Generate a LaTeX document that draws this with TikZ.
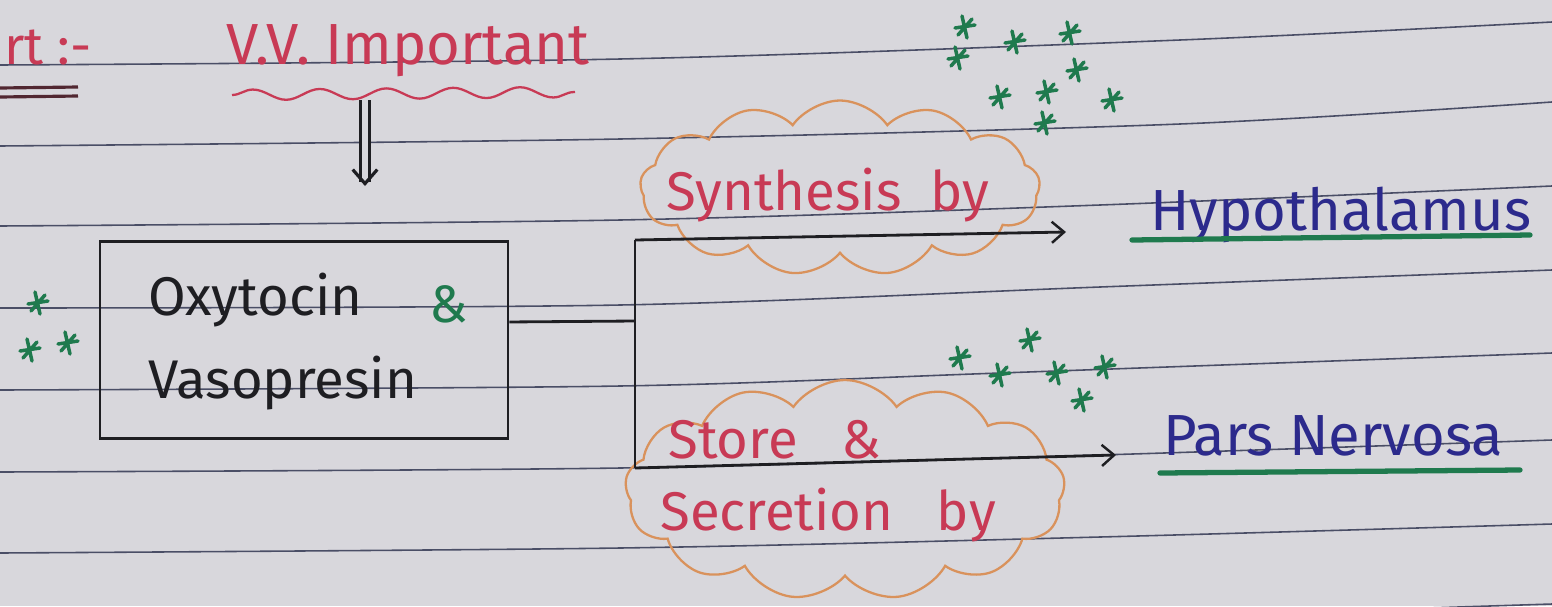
\documentclass[tikz,border=0pt]{standalone}
\usepackage{fontspec}
\setmainfont{Fira Sans}
\usetikzlibrary{shapes.symbols,arrows.meta,decorations.pathmorphing,calc}
\definecolor{paper}{HTML}{D8D7DC}
\definecolor{rulec}{HTML}{4A4E66}
\definecolor{redink}{HTML}{C83A55}
\definecolor{navyink}{HTML}{2C2A8C}
\definecolor{greenink}{HTML}{1F7A4E}
\definecolor{cloudc}{HTML}{D9925C}
\definecolor{blackink}{HTML}{1E1E22}
\tikzset{
  rule/.style={rulec, line width=0.9pt},
  red text/.style={text=redink, inner sep=0pt},
  navy text/.style={text=navyink, inner sep=0pt},
  ink/.style={blackink, line width=1.6pt},
  arrowline/.style={ink, -{Straight Barb[length=7pt,width=12pt,line width=1.4pt]}},
  cloudbox/.style={cloud, draw=cloudc, line width=1.3pt, cloud puffs=13, cloud puff arc=110, inner sep=0pt},
  asterisk/.pic={\draw[greenink, line width=2pt, line cap=round]
      (-10,1)--(10,-2) (-3,-11)--(2,11) (-7,8)--(7,-8);}
}
\begin{document}
\begin{tikzpicture}[x=0.02cm,y=-0.02cm]
\fill[paper] (0,0) rectangle (1552,606);
\useasboundingbox (0,0) rectangle (1552,606);
\begin{scope}
\clip (0,0) rectangle (1552,606);
% ruled lines
\draw[rule] plot[smooth] coordinates {(0,65) (620,59) (1180,40) (1552,22)};
\draw[rule] plot[smooth] coordinates {(0,146) (620,139) (1180,124) (1552,102)};
\draw[rule] plot[smooth] coordinates {(0,226) (620,220) (1100,205) (1552,186)};
\draw[rule] plot[smooth] coordinates {(0,308) (620,305) (1100,287) (1552,270)};
\draw[rule] plot[smooth] coordinates {(0,390) (620,386) (1000,373) (1552,353)};
\draw[rule] plot[smooth] coordinates {(0,472) (620,468) (1100,455) (1552,440)};
\draw[rule] plot[smooth] coordinates {(0,553) (620,548) (1100,537) (1552,524)};
\draw[rule] plot[smooth] coordinates {(0,635) (620,630) (1100,618) (1552,604)};
\end{scope}

% header
\node[red text, anchor=base west, font=\fontsize{30}{30}\selectfont] (hdr) at (4,64) {rt :-};
\draw[blackink!70!redink, line width=1.8pt] (0,88) -- (78,87) (0,97) -- (78,96);
\node[red text, anchor=base west, font=\fontsize{33}{33}\selectfont] (vv) at (226,64) {V.V. Important};
\draw[redink, line width=1.3pt, decorate, decoration={snake, segment length=38, amplitude=3}]
  (232,95) -- (575,92);
\coordinate (dtop) at (365,100);
\coordinate (dbot) at (365,186);
\draw[ink, double=paper, double distance=3pt, line width=1.8pt, -{Straight Barb[length=8pt,width=14pt]}] (dtop) -- (dbot);

% stars left
\pic at (38,303) {asterisk};
\pic at (30,350) {asterisk};
\pic at (68,343) {asterisk};

% main box
\node[draw=blackink, line width=1.6pt, minimum width=8.16cm, minimum height=3.95cm, inner sep=0pt] (box) at (304,340) {};
\node[anchor=base west, inner sep=0pt, text=blackink, font=\fontsize{31}{31}\selectfont] (oxy) at (148,315) {Oxytocin};
\node[anchor=base, inner sep=0pt, text=greenink, font=\fontsize{30}{30}\selectfont] (amp1) at (449,322) {\&};
\node[anchor=base west, inner sep=0pt, text=blackink, font=\fontsize{31}{31}\selectfont] (vaso) at (148,398) {Vasopresin};

% clouds
\node[cloudbox, minimum width=8.0cm, minimum height=3.5cm] (c1) at (840,188) {};
\node[cloudbox, minimum width=8.8cm, minimum height=4.4cm] (c2) at (845,490) {};
\node[red text, anchor=base west, font=\fontsize{31}{31}\selectfont] (syn) at (666,210) {Synthesis \ by};
\node[red text, anchor=base west, font=\fontsize{31}{31}\selectfont] (store) at (668,458) {Store \ \ \&};
\node[red text, anchor=base west, font=\fontsize{31}{31}\selectfont] (secr) at (660,530) {Secretion \ \ by};

% connectors
\coordinate (brtop) at (635,240);
\coordinate (brbot) at (635,468);
\coordinate (brmid) at (635,321);
\coordinate (tipA) at (1066,232);
\coordinate (tipB) at (1116,455);
\draw[ink] ($(box.north east)!0.41!(box.south east)$) -- (brmid);
\draw[ink] (brtop) -- (brbot);
\draw[arrowline] (brtop) -- (tipA);
\draw[arrowline] (brbot) -- (tipB);

% targets
\node[navy text, anchor=base west, font=\fontsize{33}{33}\selectfont] (hypo) at (1150,230) {Hypothalamus};
\draw[greenink, line width=3pt, line cap=round] (1132,240) -- (1530,235);
\node[navy text, anchor=base west, font=\fontsize{33}{33}\selectfont] (pars) at (1163,455) {Pars Nervosa};
\draw[greenink, line width=3pt, line cap=round] (1160,473) -- (1520,470);

% stars top
\foreach \p in {(965,27),(958,58),(1015,42),(1070,33),(1000,97),(1047,92),(1077,70),(1112,100),(1045,123)}
  \pic at \p {asterisk};
% stars middle
\foreach \p in {(960,358),(1000,375),(1030,340),(1057,373),(1105,367),(1082,400)}
  \pic at \p {asterisk};
\end{tikzpicture}
\end{document}
